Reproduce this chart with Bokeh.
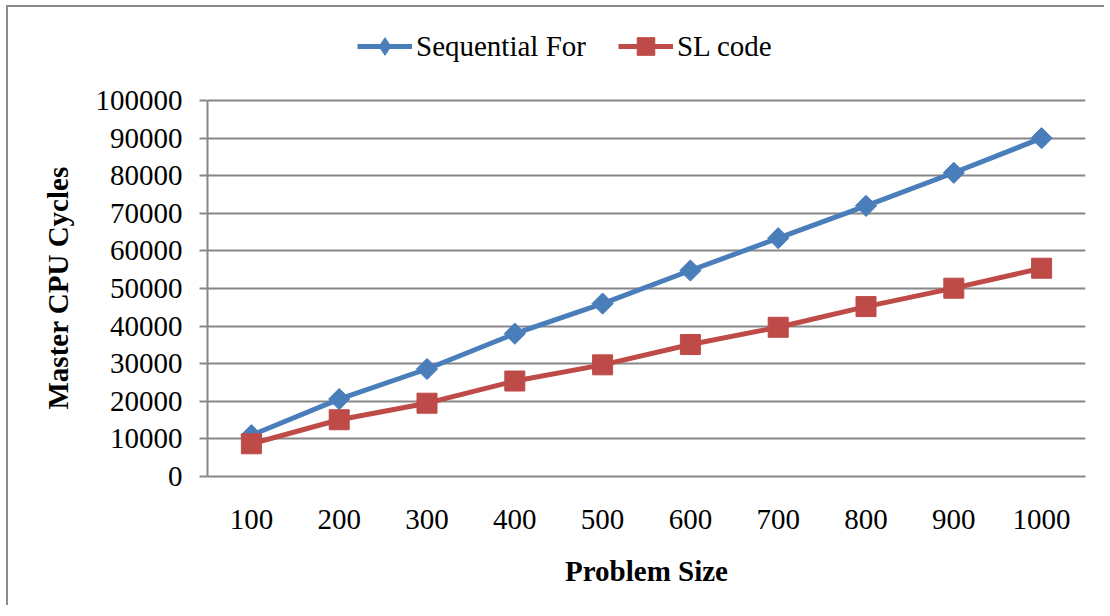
from bokeh.plotting import figure
from bokeh.models import FactorRange, Range1d, FixedTicker, NumeralTickFormatter, Legend, LegendItem, ColumnDataSource, Title
from bokeh.embed import file_html
from bokeh.resources import INLINE
import math

sizes = ["100", "200", "300", "400", "500", "600", "700", "800", "900", "1000"]
seq_for = [11000, 20600, 28600, 38000, 46000, 54800, 63400, 72000, 80800, 90000]
sl_code = [8700, 15100, 19500, 25400, 29700, 35100, 39700, 45200, 50100, 55400]
y_ticks = [0, 10000, 20000, 30000, 40000, 50000, 60000, 70000, 80000, 90000, 100000]

FONT = "Liberation Serif"
BLUE = "#4A7EBB"
RED = "#BE4B48"
GRID = "#878787"

src = ColumnDataSource(dict(x=sizes, seq=seq_for, sl=sl_code))

# frame extends above the 100000 line so the legend can live inside it
p = figure(width=1098, height=600, output_backend="svg", toolbar_location=None,
           x_range=FactorRange(factors=sizes, range_padding=0),
           y_range=Range1d(0, 124500),
           min_border_left=199, min_border_top=1, min_border_right=21, min_border_bottom=131)
p.margin = (5, 0, 0, 6)
p.styles = {"border-top": "2px solid #8c8c8c", "border-left": "2px solid #8c8c8c"}
p.outline_line_color = None
p.background_fill_color = "white"
p.border_fill_color = "white"

l1 = p.line("x", "seq", source=src, line_color=BLUE, line_width=5)
m1 = p.scatter("x", "seq", source=src, marker="square", angle=math.pi / 4, size=15,
               fill_color=BLUE, line_color=BLUE)
l2 = p.line("x", "sl", source=src, line_color=RED, line_width=5)
m2 = p.scatter("x", "sl", source=src, marker="square", size=20,
               fill_color=RED, line_color=RED)

# legend-only proxy (a NaN point, never drawn) so the legend shows a diamond
leg_src = ColumnDataSource(dict(x=[sizes[0]], y=[float("nan")]))
m1_leg = p.scatter("x", "y", source=leg_src, marker="diamond",
                   fill_color=BLUE, line_color=BLUE)

p.xgrid.visible = False
p.ygrid.grid_line_color = GRID
p.ygrid.grid_line_width = 2
p.ygrid.bounds = (0, 100000)
p.yaxis.ticker = FixedTicker(ticks=y_ticks)
p.yaxis.formatter = NumeralTickFormatter(format="0")
p.yaxis.bounds = (0, 100000)

for ax in (p.xaxis[0], p.yaxis[0]):
    ax.axis_line_color = GRID
    ax.axis_line_width = 2
    ax.major_tick_line_color = GRID
    ax.major_tick_line_width = 2
    ax.minor_tick_line_color = None
    ax.major_tick_in = 0
    ax.major_label_text_font = FONT
    ax.major_label_text_font_size = "29px"
    ax.major_label_text_color = "black"
    ax.axis_label_text_font = FONT
    ax.axis_label_text_font_size = "29px"
    ax.axis_label_text_font_style = "bold"
    ax.axis_label_text_color = "black"

p.yaxis.major_tick_out = 8
p.yaxis.major_label_standoff = 17

p.xaxis.major_tick_out = 0
p.xaxis.major_tick_line_color = None
p.xaxis.major_label_standoff = 33
p.xaxis.axis_label = "Problem Size"
p.xaxis.axis_label_standoff = 23

# y-axis label as a left title, centred on the 0..100000 span
ylab = Title(text="Master CPU Cycles", align="left", offset=67, standoff=38,
             text_font=FONT, text_font_size="29px", text_font_style="bold", text_color="black")
p.add_layout(ylab, "left")

legend = Legend(items=[LegendItem(label="Sequential For", renderers=[l1, m1_leg]),
                       LegendItem(label="SL code", renderers=[l2, m2])],
                orientation="horizontal", location=(150, 408), margin=0,
                padding=0, spacing=32, label_standoff=4, glyph_width=55, glyph_height=44,
                border_line_alpha=0, background_fill_alpha=0,
                label_text_font=FONT, label_text_font_size="29px", label_text_color="black")
p.add_layout(legend, "center")

open("out.html", "w").write(file_html(p, INLINE))
